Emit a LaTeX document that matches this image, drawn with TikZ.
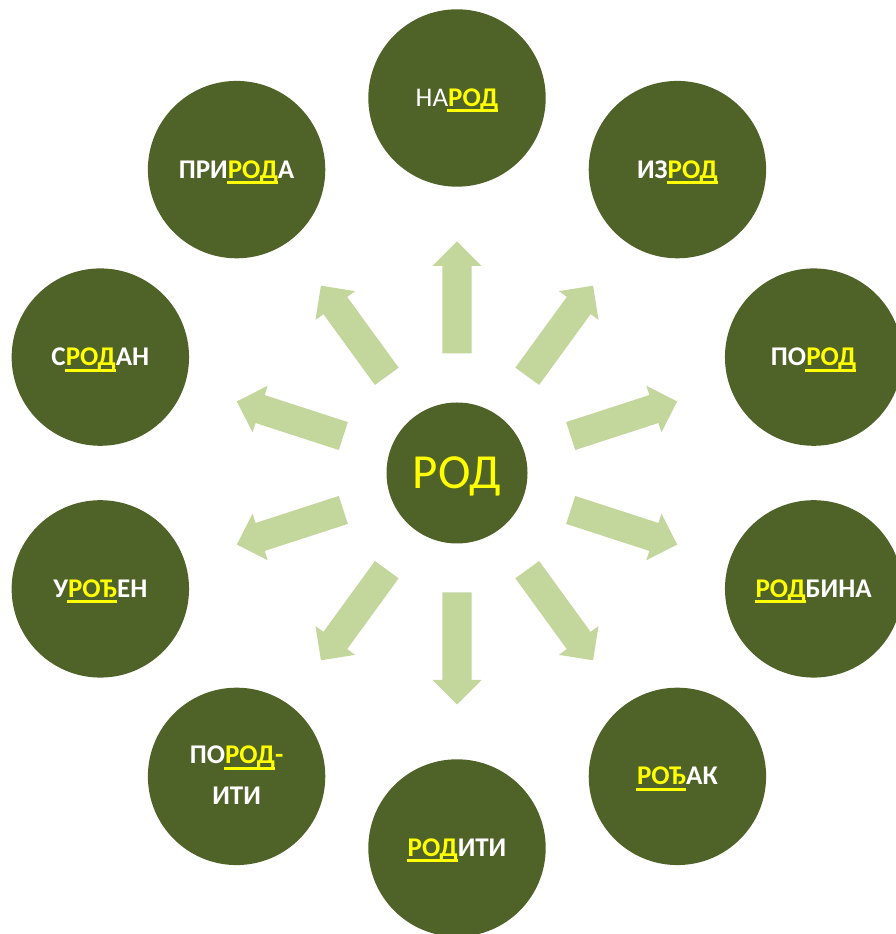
\documentclass[tikz,border=0pt]{standalone}
\usepackage{fontspec}
\setmainfont{Carlito}
\definecolor{dkgreen}{HTML}{4F6228}
\definecolor{ltgreen}{HTML}{C3D69B}
\definecolor{yel}{HTML}{FFFF00}
\newcommand\yr[1]{\setbox0\hbox{#1}\rlap{\kern-1pt\color{yel}\rule[-6pt]{\dimexpr\wd0+1pt\relax}{3pt}}{\color{yel}#1}}
\begin{document}
\begin{tikzpicture}[x=1pt,y=1pt,
  bubble/.style={circle,fill=dkgreen,minimum size=177.4pt,inner sep=0pt,text=white,
    font=\fontsize{27}{32}\selectfont\bfseries,text height=17pt,text depth=0pt},
  lbl/.style={inner sep=0pt,text=white,font=\fontsize{27}{32}\selectfont\bfseries,text height=17pt,text depth=0pt},
  hub/.style={circle,fill=dkgreen,minimum size=141pt,inner sep=0pt,text=yel,
    font=\fontsize{49}{58}\selectfont,text height=31pt,text depth=0pt},
  blockarrow/.style={fill=ltgreen}]
\useasboundingbox (0,0) rectangle (896,934);
\node[hub] (C) at (457,461) {РОД};
% outer circles
\node[bubble,font=\fontsize{27}{32}\selectfont] (n1) at ([shift={(90:375)}]C.center) {НА\yr{\bfseries РОД}};
\node[bubble] (n2) at ([shift={(54:375)}]C.center) {ИЗ\yr{РОД}};
\node[bubble] (n3) at ([shift={(18:375)}]C.center) {ПО\yr{РОД}};
\node[bubble] (n4) at ([shift={(-18:375)}]C.center) {\yr{РОД}БИНА};
\node[bubble] (n5) at ([shift={(-54:375)}]C.center) {\yr{РОЂ}АК};
\node[bubble] (n6) at ([shift={(-90:375)}]C.center) {\yr{РОД}ИТИ};
\node[bubble] (n7) at ([shift={(-126:375)}]C.center) {};
\node[lbl] (n7a) at ([yshift=21]n7.center) {ПО\yr{РОД}{\color{yel}-}};
\node[lbl] (n7b) at ([yshift=-20]n7.center) {ИТИ};
\node[bubble] (n8) at ([shift={(-162:375)}]C.center) {У\yr{РОЂ}ЕН};
\node[bubble] (n9) at ([shift={(162:375)}]C.center) {С\yr{РОД}АН};
\node[bubble] (n10) at ([shift={(126:375)}]C.center) {ПРИ\yr{РОД}А};
% block arrows
\foreach \a in {90,54,18,-18,-54,-90,-126,-162,162,126}{
  \fill[blockarrow,shift={(C.center)},rotate=\a]
    (119.5,-14.7) -- (207,-14.7) -- (207,-24.5) -- (231.5,0) -- (207,24.5) -- (207,14.7) -- (119.5,14.7) -- cycle;
}
\end{tikzpicture}
\end{document}
